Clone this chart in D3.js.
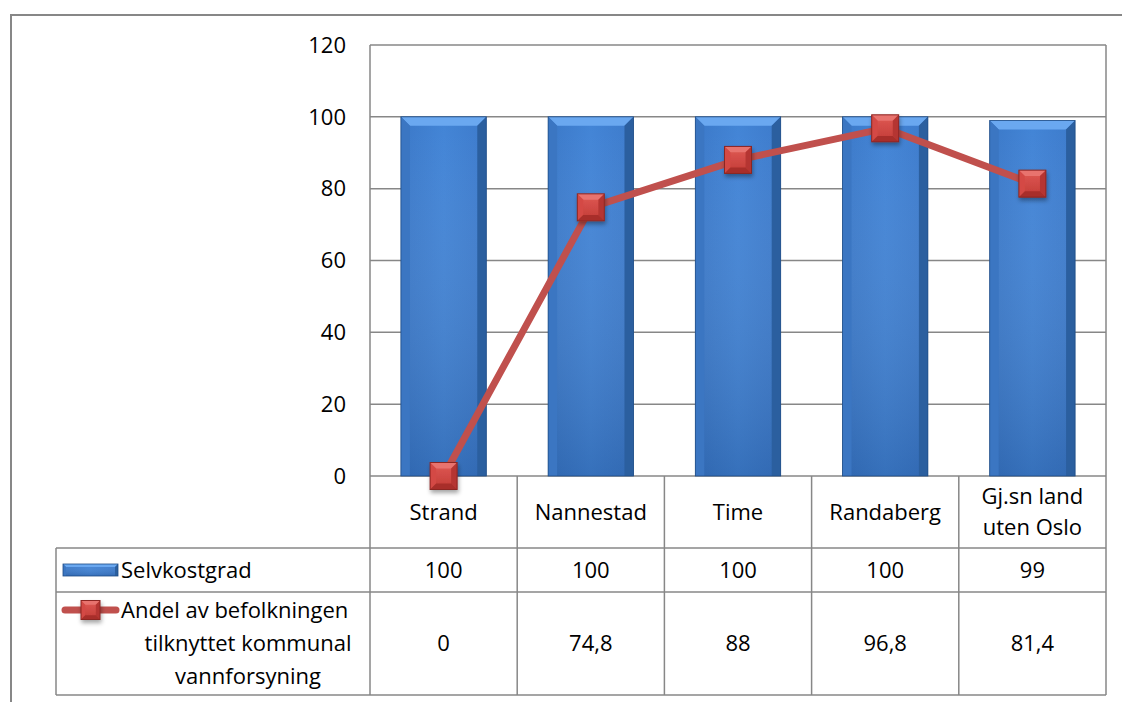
<!DOCTYPE html>
<html>
<head>
<meta charset="utf-8">
<script src="https://cdn.jsdelivr.net/npm/d3@7"></script>
<style>
  body { margin: 0; background: #fff; }
  svg { display: block; font-family: "Open Sans", Lato, sans-serif; }
</style>
</head>
<body>
<div id="chart"></div>
<script>
// Chart data
const categories = ['Strand', 'Nannestad', 'Time', 'Randaberg', 'Gj.sn land\nuten Oslo'];
const selvkostgrad = [100, 100, 100, 100, 99];
const andel = [0, 74.8, 88, 96.8, 81.4];
const andelLabels = ['0', '74,8', '88', '96,8', '81,4'];
const yTicks = [0, 20, 40, 60, 80, 100, 120];
const seriesNames = ['Selvkostgrad', 'Andel av befolkningen\ntilknyttet kommunal\nvannforsyning'];

const W = 1122, H = 702;
const plot = { left: 370, right: 1106, top: 45, bottom: 476 };
const rows = { header: 548, row1: 592, row2: 695, tableLeft: 56 };
const gridColor = '#878787';
const fs = 22;

const svg = d3.select('#chart').append('svg')
    .attr('width', W)
    .attr('height', H);

const defs = svg.append('defs');

// Bar gradient (horizontal shading like Excel bevel style)
const barGrad = defs.append('linearGradient').attr('id', 'barGrad')
    .attr('x1', 0).attr('x2', 1).attr('y1', 0).attr('y2', 0);
barGrad.append('stop').attr('offset', '0%').attr('stop-color', '#3a78c8');
barGrad.append('stop').attr('offset', '50%').attr('stop-color', '#4284d6');
barGrad.append('stop').attr('offset', '100%').attr('stop-color', '#3c7acb');

const barVGrad = defs.append('linearGradient').attr('id', 'barVGrad')
    .attr('x1', 0).attr('x2', 0).attr('y1', 0).attr('y2', 1);
barVGrad.append('stop').attr('offset', '0%').attr('stop-color', '#fff').attr('stop-opacity', 0);
barVGrad.append('stop').attr('offset', '100%').attr('stop-color', '#0a2a5a').attr('stop-opacity', 0.22);

const markGrad = defs.append('linearGradient').attr('id', 'markGrad')
    .attr('x1', 0).attr('x2', 0).attr('y1', 0).attr('y2', 1);
markGrad.append('stop').attr('offset', '0%').attr('stop-color', '#e05a55');
markGrad.append('stop').attr('offset', '100%').attr('stop-color', '#c23b36');

const shadow = defs.append('filter').attr('id', 'shadow')
    .attr('x', '-30%').attr('y', '-30%').attr('width', '170%').attr('height', '170%');
shadow.append('feDropShadow').attr('dx', 1).attr('dy', 3).attr('stdDeviation', 2)
    .attr('flood-color', '#000').attr('flood-opacity', 0.35);

// Scales
const x = d3.scaleBand().domain(categories).range([plot.left, plot.right]).padding(0);
const y = d3.scaleLinear().domain([0, 120]).range([plot.bottom, plot.top]);
const barW = x.bandwidth() * 0.58;

// Outer chart border
svg.append('rect')
    .attr('x', 11).attr('y', 15)
    .attr('width', W + 20).attr('height', H + 20)
    .attr('fill', 'none').attr('stroke', gridColor).attr('stroke-width', 2);

// Gridlines
svg.append('g')
    .selectAll('line')
    .data(yTicks)
    .join('line')
    .attr('x1', plot.left).attr('x2', plot.right)
    .attr('y1', d => y(d)).attr('y2', d => y(d))
    .attr('stroke', gridColor).attr('stroke-width', 1.5);

// Y axis labels
svg.append('g')
    .selectAll('text')
    .data(yTicks)
    .join('text')
    .attr('x', 346).attr('y', d => y(d))
    .attr('dy', '0.35em')
    .attr('text-anchor', 'end')
    .attr('font-size', fs)
    .attr('fill', '#000')
    .text(d => d);

// Bevelled bars
function drawBar(g, x0, y0, w, h, b) {
    g.append('rect').attr('x', x0).attr('y', y0).attr('width', w).attr('height', h)
        .attr('fill', 'url(#barGrad)');
    g.append('rect').attr('x', x0).attr('y', y0).attr('width', w).attr('height', h)
        .attr('fill', 'url(#barVGrad)');
    // top bevel
    g.append('polygon')
        .attr('points', [[x0, y0], [x0 + w, y0], [x0 + w - b, y0 + b], [x0 + b, y0 + b]].join(' '))
        .attr('fill', '#6aa8f0');
    // left bevel
    g.append('polygon')
        .attr('points', [[x0, y0], [x0 + b, y0 + b], [x0 + b, y0 + h], [x0, y0 + h]].join(' '))
        .attr('fill', '#3b76c2');
    // right bevel
    g.append('polygon')
        .attr('points', [[x0 + w, y0], [x0 + w - b, y0 + b], [x0 + w - b, y0 + h], [x0 + w, y0 + h]].join(' '))
        .attr('fill', '#2b5f9f');
    g.append('rect').attr('x', x0).attr('y', y0).attr('width', w).attr('height', h)
        .attr('fill', 'none').attr('stroke', '#1f4c85').attr('stroke-width', 0.8);
}

const bars = svg.append('g');
categories.forEach((c, i) => {
    const cx = x(c) + x.bandwidth() / 2;
    const g = bars.append('g');
    drawBar(g, cx - barW / 2, y(selvkostgrad[i]), barW, y(0) - y(selvkostgrad[i]), 9);
});

// Line series
const line = d3.line()
    .x((d, i) => x(categories[i]) + x.bandwidth() / 2)
    .y(d => y(d));

svg.append('path')
    .datum(andel)
    .attr('d', line)
    .attr('fill', 'none')
    .attr('stroke', '#c0504d')
    .attr('stroke-width', 7)
    .attr('stroke-linejoin', 'round')
    .attr('stroke-linecap', 'round');

function drawMarker(g, cx, cy, s) {
    const h = s / 2, b = s * 0.22;
    const m = g.append('g').attr('filter', 'url(#shadow)');
    m.append('rect').attr('x', cx - h).attr('y', cy - h).attr('width', s).attr('height', s)
        .attr('fill', 'url(#markGrad)');
    m.append('polygon')
        .attr('points', [[cx - h, cy - h], [cx + h, cy - h], [cx + h - b, cy - h + b], [cx - h + b, cy - h + b]].join(' '))
        .attr('fill', '#e8736e');
    m.append('polygon')
        .attr('points', [[cx - h, cy - h], [cx - h + b, cy - h + b], [cx - h + b, cy + h - b], [cx - h, cy + h]].join(' '))
        .attr('fill', '#d44a45');
    m.append('polygon')
        .attr('points', [[cx + h, cy - h], [cx + h - b, cy - h + b], [cx + h - b, cy + h - b], [cx + h, cy + h]].join(' '))
        .attr('fill', '#b53631');
    m.append('polygon')
        .attr('points', [[cx - h, cy + h], [cx - h + b, cy + h - b], [cx + h - b, cy + h - b], [cx + h, cy + h]].join(' '))
        .attr('fill', '#a82f2b');
    m.append('rect').attr('x', cx - h).attr('y', cy - h).attr('width', s).attr('height', s)
        .attr('fill', 'none').attr('stroke', '#8c2622').attr('stroke-width', 1);
}

const markers = svg.append('g');
andel.forEach((v, i) => {
    drawMarker(markers, x(categories[i]) + x.bandwidth() / 2, y(v), 27);
});

// Data table lines
const table = svg.append('g').attr('stroke', gridColor).attr('stroke-width', 1.5);
const bounds = categories.map(c => x(c)).concat([plot.right]);
bounds.forEach(bx => {
    table.append('line').attr('x1', bx).attr('x2', bx)
        .attr('y1', plot.bottom).attr('y2', rows.row2);
});
table.append('line').attr('x1', plot.left).attr('x2', plot.left)
    .attr('y1', plot.top).attr('y2', plot.bottom);
table.append('line').attr('x1', plot.right).attr('x2', plot.right)
    .attr('y1', plot.top).attr('y2', plot.bottom);
[rows.header, rows.row1, rows.row2].forEach(ry => {
    table.append('line').attr('x1', rows.tableLeft).attr('x2', plot.right)
        .attr('y1', ry).attr('y2', ry);
});
table.append('line').attr('x1', rows.tableLeft).attr('x2', rows.tableLeft)
    .attr('y1', rows.header).attr('y2', rows.row2);

// Category header labels and table values
const txt = svg.append('g').attr('font-size', fs).attr('fill', '#000').attr('text-anchor', 'middle');
categories.forEach((c, i) => {
    const parts = c.split('\n');
    const cx = x(c) + x.bandwidth() / 2;
    const mid = (plot.bottom + rows.header) / 2;
    parts.forEach((p, k) => {
        txt.append('text').attr('x', cx)
            .attr('y', mid + (k - (parts.length - 1) / 2) * 31)
            .attr('dy', '0.35em').text(p);
    });
    txt.append('text').attr('x', cx).attr('y', (rows.header + rows.row1) / 2)
        .attr('dy', '0.35em').text(selvkostgrad[i]);
    txt.append('text').attr('x', cx).attr('y', (rows.row1 + rows.row2) / 2)
        .attr('dy', '0.35em').text(andelLabels[i]);
});

// Legend keys & series names
const keyY1 = (rows.header + rows.row1) / 2;
drawBar(svg.append('g'), 63, keyY1 - 6, 55, 12, 3);
svg.append('text').attr('x', 121).attr('y', keyY1).attr('dy', '0.35em')
    .attr('font-size', fs).text(seriesNames[0]);

const keyY2 = 610;
svg.append('line').attr('x1', 65).attr('x2', 116).attr('y1', keyY2).attr('y2', keyY2)
    .attr('stroke', '#c0504d').attr('stroke-width', 7).attr('stroke-linecap', 'round');
drawMarker(svg.append('g'), 90.5, keyY2, 19);

const nameLines = seriesNames[1].split('\n');
nameLines.forEach((p, k) => {
    svg.append('text')
        .attr('x', k === 0 ? 121 : 248)
        .attr('y', keyY2 + k * 33)
        .attr('dy', '0.35em')
        .attr('text-anchor', k === 0 ? 'start' : 'middle')
        .attr('font-size', fs)
        .text(p);
});
</script>
</body>
</html>
